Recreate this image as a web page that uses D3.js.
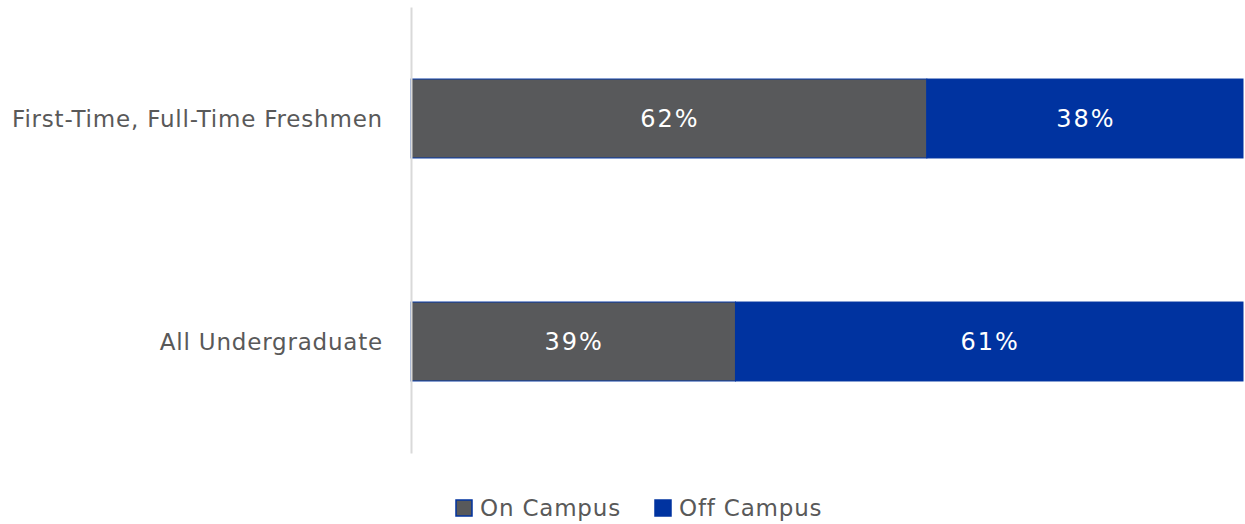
<!DOCTYPE html>
<html>
<head>
<meta charset="utf-8">
<script src="https://cdn.jsdelivr.net/npm/d3@7"></script>
<style>
  body { margin: 0; background: #fff; }
  svg text { font-family: "DejaVu Sans", sans-serif; }
</style>
</head>
<body>
<div id="chart"></div>
<script>
// data
const categories = ["First-Time, Full-Time Freshmen", "All Undergraduate"];
const seriesNames = ["On Campus", "Off Campus"];
const onCampus = [62, 39];
const offCampus = [38, 61];

const colors = ["#58595b", "#0033a0"];
const width = 1245, height = 524;
const margin = {top: 7, right: 2, bottom: 71, left: 411};

const rows = categories.map((c, i) => ({cat: c, "On Campus": onCampus[i], "Off Campus": offCampus[i]}));
const stacked = d3.stack().keys(seriesNames)(rows);

const svg = d3.select("#chart").append("svg")
    .attr("width", width).attr("height", height);

const x = d3.scaleLinear().domain([0, 100]).range([margin.left, width - margin.right]);
const y = d3.scaleBand().domain(categories)
    .range([margin.top, height - margin.bottom])
    .paddingInner(0.646).paddingOuter(0.323);

// bars
svg.append("g").selectAll("g")
    .data(stacked)
    .join("g")
    .attr("fill", (d, i) => colors[i])
    .selectAll("rect")
    .data(d => d)
    .join("rect")
    .attr("x", d => x(d[0]))
    .attr("y", d => y(d.data.cat))
    .attr("width", d => x(d[1]) - x(d[0]))
    .attr("height", y.bandwidth())
    .attr("stroke", "#0033a0")
    .attr("stroke-width", 1);

// value labels
svg.append("g").selectAll("g")
    .data(stacked)
    .join("g")
    .selectAll("text")
    .data(d => d)
    .join("text")
    .attr("x", d => (x(d[0]) + x(d[1])) / 2 + 1)
    .attr("y", d => y(d.data.cat) + y.bandwidth() / 2)
    .attr("dy", "0.36em")
    .attr("text-anchor", "middle")
    .attr("fill", "#fff")
    .style("font-size", "24px")
    .style("letter-spacing", "2px")
    .text(d => (d[1] - d[0]) + "%");

// category axis
const yAxis = svg.append("g")
    .attr("transform", `translate(${margin.left},0)`)
    .call(d3.axisLeft(y).tickSize(0).tickPadding(28));
yAxis.select(".domain").attr("stroke", "#d9d9d9").attr("stroke-width", 2);
yAxis.selectAll("text")
    .attr("fill", "#595959")
    .style("font-size", "23px")
    .style("letter-spacing", "0.8px")
    .attr("dy", "0.36em");

// legend
const legend = svg.append("g").attr("transform", "translate(456,508)");
const legendX = [0, 199];
seriesNames.forEach((s, i) => {
    const g = legend.append("g").attr("transform", `translate(${legendX[i]},0)`);
    g.append("rect")
        .attr("x", 0).attr("y", -8).attr("width", 16).attr("height", 16)
        .attr("fill", colors[i]).attr("stroke", "#0033a0").attr("stroke-width", 1.5);
    g.append("text")
        .attr("x", 24).attr("y", 0).attr("dy", "0.36em")
        .attr("fill", "#595959")
        .style("font-size", "23px")
        .style("letter-spacing", "0.8px")
        .text(s);
});
</script>
</body>
</html>
